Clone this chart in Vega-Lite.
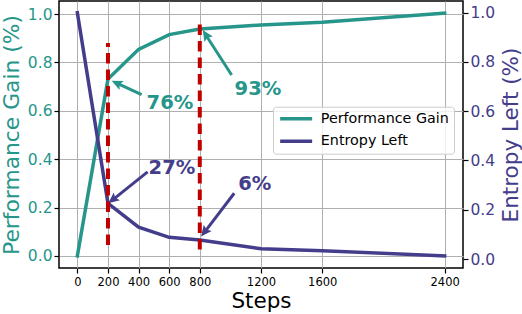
{
  "$schema": "https://vega.github.io/schema/vega-lite/v6.json",
  "width": 404,
  "height": 267,
  "autosize": {"type": "none"},
  "padding": {"left": 59, "top": 1, "right": 59, "bottom": 46},
  "config": {
    "font": "DejaVu Sans",
    "view": {"stroke": "black", "strokeWidth": 1.5},
    "axis": {
      "domain": false,
      "tickColor": "black",
      "tickWidth": 1.2,
      "tickSize": 5,
      "gridColor": "#b0b0b0",
      "gridWidth": 1,
      "labelFont": "DejaVu Sans",
      "titleFont": "DejaVu Sans",
      "titleFontWeight": "normal"
    }
  },
  "datasets": {
    "series": [
      {"step": 0, "value": 0.0, "series": "Performance Gain"},
      {"step": 200, "value": 0.731, "series": "Performance Gain"},
      {"step": 400, "value": 0.854, "series": "Performance Gain"},
      {"step": 600, "value": 0.915, "series": "Performance Gain"},
      {"step": 800, "value": 0.938, "series": "Performance Gain"},
      {"step": 1200, "value": 0.955, "series": "Performance Gain"},
      {"step": 1600, "value": 0.966, "series": "Performance Gain"},
      {"step": 2400, "value": 1.004, "series": "Performance Gain"},
      {"step": 0, "value": 1.0, "series": "Entropy Left"},
      {"step": 200, "value": 0.226, "series": "Entropy Left"},
      {"step": 400, "value": 0.129, "series": "Entropy Left"},
      {"step": 600, "value": 0.088, "series": "Entropy Left"},
      {"step": 800, "value": 0.077, "series": "Entropy Left"},
      {"step": 1200, "value": 0.042, "series": "Entropy Left"},
      {"step": 1600, "value": 0.034, "series": "Entropy Left"},
      {"step": 2400, "value": 0.013, "series": "Entropy Left"}
    ],
    "gainNotes": [
      {"label": "76%", "tx": 605, "ty": 0.606, "ax": 420, "ay": 0.6665, "sx": 271.5, "sy": 0.71, "hx": 224, "hy": 0.724},
      {"label": "93%", "tx": 1180, "ty": 0.665, "ax": 1008, "ay": 0.748, "sx": 847, "sy": 0.906, "hx": 819, "hy": 0.934}
    ],
    "entropyNotes": [
      {"label": "27%", "tx": 618, "ty": 0.345, "ax": 459, "ay": 0.354, "sx": 243, "sy": 0.246, "hx": 202, "hy": 0.226},
      {"label": "6%", "tx": 1159, "ty": 0.28, "ax": 1025, "ay": 0.267, "sx": 840, "sy": 0.116, "hx": 808, "hy": 0.091}
    ],
    "cuts": [
      {"step": 200, "lo": 0.045, "hi": 0.88},
      {"step": 800, "lo": 0.027, "hi": 0.962}
    ]
  },
  "layer": [
    {
      "layer": [
        {
          "data": {"name": "series"},
          "transform": [{"filter": "datum.series === 'Performance Gain'"}],
          "mark": {"type": "line", "strokeWidth": 3.5, "strokeCap": "square"},
          "encoding": {
            "x": {
              "field": "step", "type": "quantitative",
              "scale": {"domain": [-120, 2520], "nice": false, "zero": false},
              "axis": {
                "values": [0, 200, 400, 600, 800, 1200, 1600, 2400], "format": "d",
                "labelFontSize": 11.5, "labelColor": "black", "labelPadding": 3,
                "title": "Steps", "titleFontSize": 21.5, "titleColor": "black", "titlePadding": 3
              }
            },
            "y": {
              "field": "value", "type": "quantitative",
              "scale": {"domain": [-0.05, 1.054], "nice": false, "zero": false},
              "axis": {
                "orient": "left",
                "values": [0, 0.2, 0.4, 0.6, 0.8, 1.0], "format": ".1f",
                "labelFontSize": 15.5, "labelColor": "#26968b", "labelPadding": 2,
                "title": "Performance Gain (%)", "titleFontSize": 21.8, "titleColor": "#26968b", "titlePadding": 4
              }
            },
            "color": {
              "field": "series", "type": "nominal",
              "scale": {"domain": ["Performance Gain", "Entropy Left"], "range": ["#26968b", "#433d8b"]},
              "legend": {
                "orient": "none", "legendX": 214, "legendY": 105.7, "title": null,
                "symbolType": "M-1,0H5.4", "symbolSize": 100, "symbolStrokeWidth": 3.5,
                "labelFontSize": 14.3, "labelFont": "DejaVu Sans", "labelColor": "black",
                "labelOffset": 28.5, "padding": 5, "rowPadding": 7.4,
                "strokeColor": "#cccccc", "fillColor": "rgba(255,255,255,0.8)", "cornerRadius": 3
              }
            }
          }
        },
        {
          "data": {"name": "gainNotes"},
          "mark": {"type": "rule", "strokeWidth": 3, "color": "#26968b"},
          "encoding": {
            "x": {"field": "ax", "type": "quantitative", "scale": {"domain": [-120, 2520], "nice": false, "zero": false}},
            "y": {"field": "ay", "type": "quantitative", "scale": {"domain": [-0.05, 1.054], "nice": false, "zero": false}},
            "x2": {"field": "sx"},
            "y2": {"field": "sy"}
          }
        },
        {
          "data": {"name": "gainNotes"},
          "transform": [{"filter": "datum.label === '76%'"}],
          "mark": {"type": "point", "shape": "M0,0L-0.45,1L0,0.8L0.45,1Z", "filled": true, "size": 484, "color": "#26968b", "opacity": 1, "angle": 295},
          "encoding": {
            "x": {"field": "hx", "type": "quantitative", "scale": {"domain": [-120, 2520], "nice": false, "zero": false}},
            "y": {"field": "hy", "type": "quantitative", "scale": {"domain": [-0.05, 1.054], "nice": false, "zero": false}}
          }
        },
        {
          "data": {"name": "gainNotes"},
          "transform": [{"filter": "datum.label === '93%'"}],
          "mark": {"type": "point", "shape": "M0,0L-0.45,1L0,0.8L0.45,1Z", "filled": true, "size": 484, "color": "#26968b", "opacity": 1, "angle": 327.2},
          "encoding": {
            "x": {"field": "hx", "type": "quantitative", "scale": {"domain": [-120, 2520], "nice": false, "zero": false}},
            "y": {"field": "hy", "type": "quantitative", "scale": {"domain": [-0.05, 1.054], "nice": false, "zero": false}}
          }
        },
        {
          "data": {"name": "gainNotes"},
          "mark": {"type": "text", "fontSize": 19.5, "fontWeight": "bold", "align": "center", "baseline": "alphabetic", "color": "#26968b"},
          "encoding": {
            "x": {"field": "tx", "type": "quantitative", "scale": {"domain": [-120, 2520], "nice": false, "zero": false}},
            "y": {"field": "ty", "type": "quantitative", "scale": {"domain": [-0.05, 1.054], "nice": false, "zero": false}},
            "text": {"field": "label"}
          }
        }
      ]
    },
    {
      "layer": [
        {
          "data": {"name": "series"},
          "transform": [{"filter": "datum.series === 'Entropy Left'"}],
          "mark": {"type": "line", "strokeWidth": 3.5, "strokeCap": "square"},
          "encoding": {
            "x": {"field": "step", "type": "quantitative", "scale": {"domain": [-120, 2520], "nice": false, "zero": false}},
            "y": {
              "field": "value", "type": "quantitative",
              "scale": {"domain": [-0.0365, 1.0475], "nice": false, "zero": false},
              "axis": {
                "orient": "right", "grid": false,
                "values": [0, 0.2, 0.4, 0.6, 0.8, 1.0], "format": ".1f",
                "labelFontSize": 15.5, "labelColor": "#433d8b", "labelPadding": 2,
                "title": "Entropy Left (%)", "titleFontSize": 21.5, "titleColor": "#433d8b", "titlePadding": 6,
                "titleAngle": 270, "titleBaseline": "top"
              }
            },
            "color": {"field": "series", "type": "nominal", "scale": {"domain": ["Performance Gain", "Entropy Left"], "range": ["#26968b", "#433d8b"]}, "legend": null}
          }
        },
        {
          "data": {"name": "entropyNotes"},
          "mark": {"type": "rule", "strokeWidth": 3, "color": "#433d8b"},
          "encoding": {
            "x": {"field": "ax", "type": "quantitative", "scale": {"domain": [-120, 2520], "nice": false, "zero": false}},
            "y": {"field": "ay", "type": "quantitative", "scale": {"domain": [-0.0365, 1.0475], "nice": false, "zero": false}},
            "x2": {"field": "sx"},
            "y2": {"field": "sy"}
          }
        },
        {
          "data": {"name": "entropyNotes"},
          "transform": [{"filter": "datum.label === '27%'"}],
          "mark": {"type": "point", "shape": "M0,0L-0.45,1L0,0.8L0.45,1Z", "filled": true, "size": 484, "color": "#433d8b", "opacity": 1, "angle": 231.3},
          "encoding": {
            "x": {"field": "hx", "type": "quantitative", "scale": {"domain": [-120, 2520], "nice": false, "zero": false}},
            "y": {"field": "hy", "type": "quantitative", "scale": {"domain": [-0.0365, 1.0475], "nice": false, "zero": false}}
          }
        },
        {
          "data": {"name": "entropyNotes"},
          "transform": [{"filter": "datum.label === '6%'"}],
          "mark": {"type": "point", "shape": "M0,0L-0.45,1L0,0.8L0.45,1Z", "filled": true, "size": 484, "color": "#433d8b", "opacity": 1, "angle": 217.5},
          "encoding": {
            "x": {"field": "hx", "type": "quantitative", "scale": {"domain": [-120, 2520], "nice": false, "zero": false}},
            "y": {"field": "hy", "type": "quantitative", "scale": {"domain": [-0.0365, 1.0475], "nice": false, "zero": false}}
          }
        },
        {
          "data": {"name": "entropyNotes"},
          "mark": {"type": "text", "fontSize": 19.5, "fontWeight": "bold", "align": "center", "baseline": "alphabetic", "color": "#433d8b"},
          "encoding": {
            "x": {"field": "tx", "type": "quantitative", "scale": {"domain": [-120, 2520], "nice": false, "zero": false}},
            "y": {"field": "ty", "type": "quantitative", "scale": {"domain": [-0.0365, 1.0475], "nice": false, "zero": false}},
            "text": {"field": "label"}
          }
        }
      ]
    },
    {
      "data": {"name": "cuts"},
      "mark": {"type": "rule", "strokeWidth": 4, "strokeDash": [10.5, 6], "color": "#c00000"},
      "encoding": {
        "x": {"field": "step", "type": "quantitative", "scale": {"domain": [-120, 2520], "nice": false, "zero": false}},
        "y": {"field": "lo", "type": "quantitative", "scale": {"domain": [-0.05, 1.054], "nice": false, "zero": false}, "axis": null},
        "y2": {"field": "hi"}
      }
    }
  ],
  "resolve": {"scale": {"y": "independent"}}
}
